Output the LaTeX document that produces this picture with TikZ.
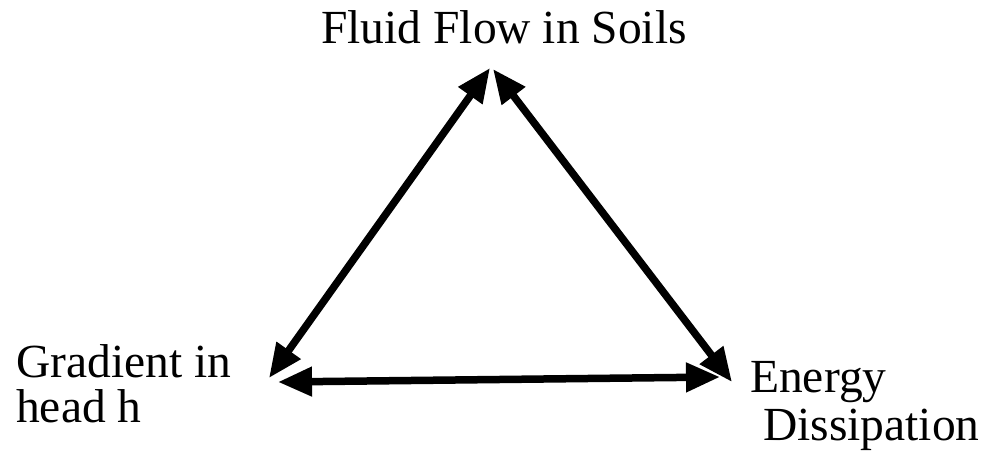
\documentclass[tikz,border=0pt]{standalone}
\usepackage{fontspec}
\setmainfont{Liberation Serif}
\usetikzlibrary{arrows.meta}
\begin{document}
\begin{tikzpicture}[x=1pt,y=-1pt,
  lbl/.style={anchor=base west,inner sep=0pt,font=\fontsize{47.5}{55}\selectfont},
  dblarr/.style={line width=7.5pt,{Triangle[length=34pt,width=28pt]}-{Triangle[length=34pt,width=28pt]}}]
\useasboundingbox (0,0) rectangle (985,450);
\node[lbl] (fluid) at (321,43) {Fluid Flow in Soils};
\node[lbl] (grad1) at (16,377) {Gradient in};
\node[lbl] (grad2) at (16,422) {head h};
\node[lbl] (ener1) at (750,392) {Energy};
\node[lbl] (ener2) at (763,440) {Dissipation};
\coordinate (tA) at (490,68);
\coordinate (tB) at (493,69);
\coordinate (lA) at (269,378);
\coordinate (lB) at (278,382);
\coordinate (rA) at (732,382);
\coordinate (rB) at (720,377);
\draw[dblarr] (tA) -- (lA);
\draw[dblarr] (tB) -- (rA);
\draw[dblarr] (lB) -- (rB);
\end{tikzpicture}
\end{document}
